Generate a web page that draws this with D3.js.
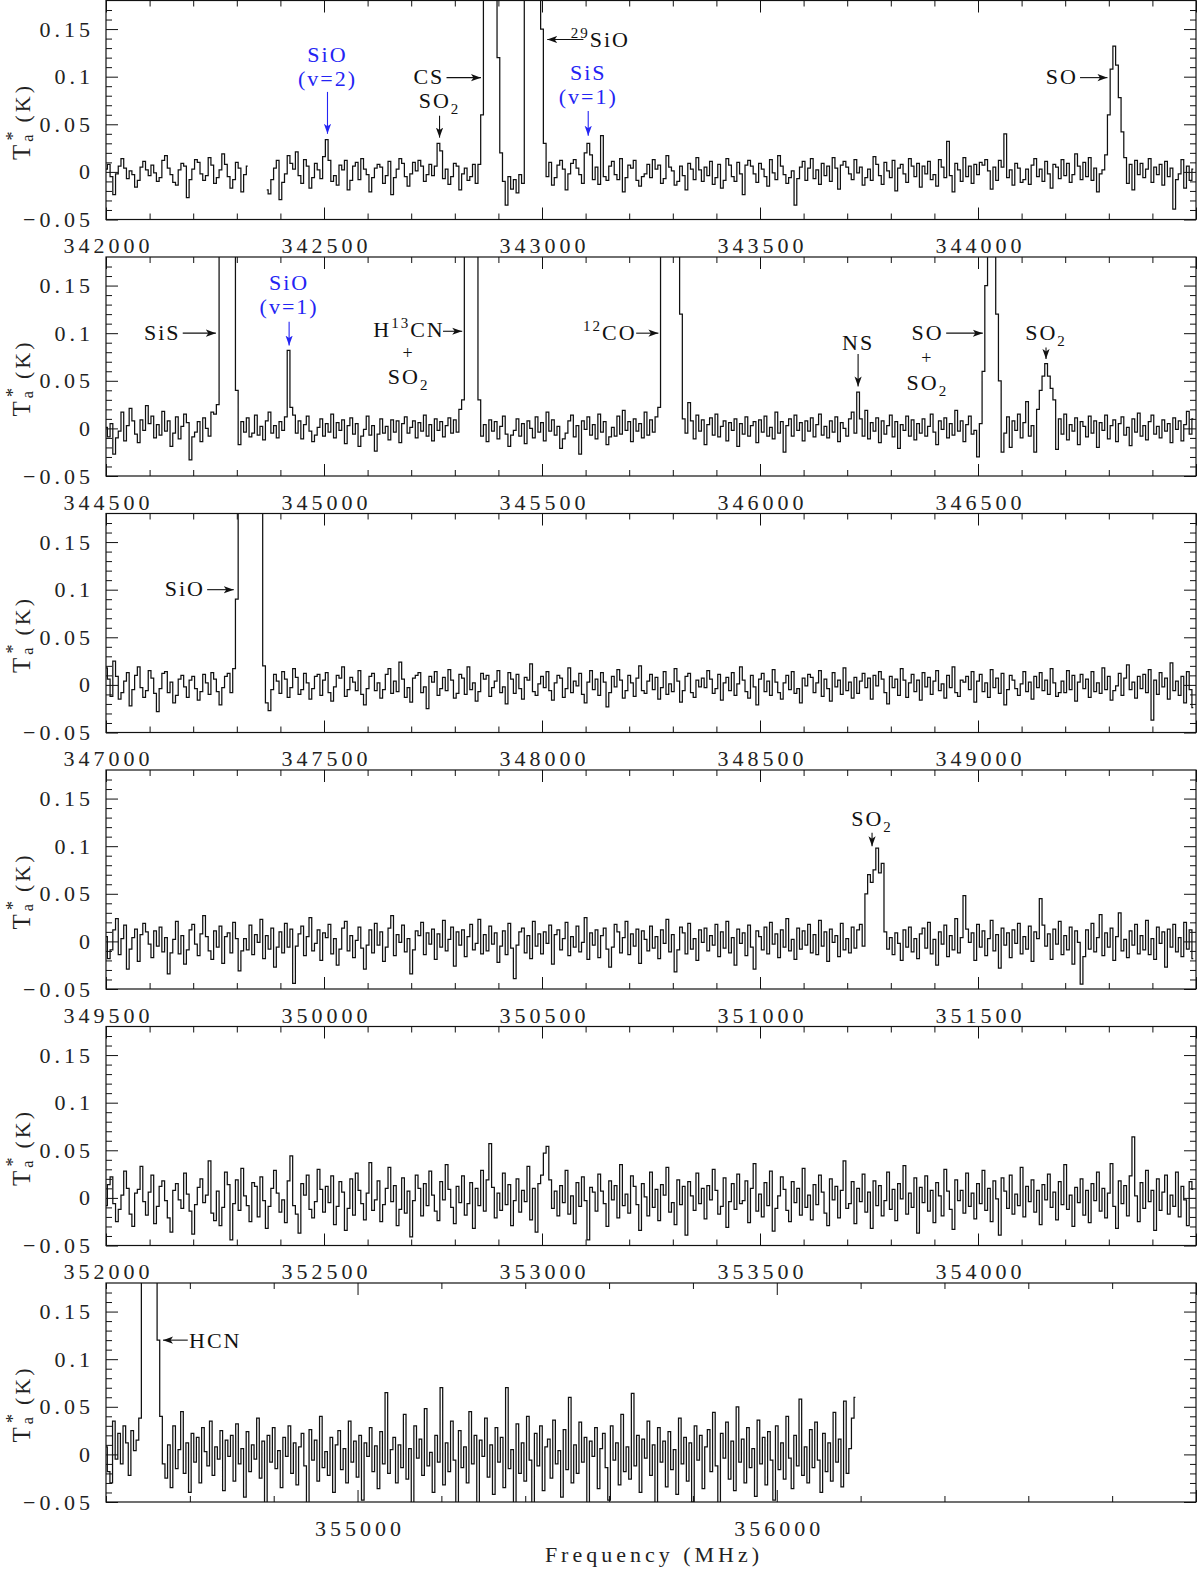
<!DOCTYPE html>
<html><head><meta charset="utf-8">
<script src="https://cdn.jsdelivr.net/npm/d3@7"></script>
<style>
body{margin:0;background:#fff}
svg{display:block}
text{font-family:"Liberation Serif","DejaVu Serif",serif;fill:#222}
</style>
</head><body>
<svg id="chart" width="1200" height="1572"></svg>
<script>
// ---- DATA (antenna temperature in mK, one value per 6.25 MHz channel) ----
const chanWidth = 6.25;
const panelStarts = [342000, 344500, 347000, 349500, 352000, 354400];
const panelEnds   = [344500, 347000, 349500, 352000, 354500, 357000];

const spec1 = [
3,8,-5,-24,-2,6,14,4,-7,1,-3,-16,-9,5,11,2,-4,7,-1,-10,
-6,12,17,4,-3,-11,-14,2,9,6,-27,-8,3,13,10,-2,-9,-4,15,7,
-12,-6,2,19,8,-5,-17,-8,10,4,-21,-3,6,
null,null,null,null,null,null,
-19,-23,-8,4,12,-29,-11,-2,17,9,3,21,-4,-12,13,6,-17,-6,9,2,-7,
16,34,12,-10,-4,-14,7,2,12,-19,-9,6,10,-8,14,3,-3,-21,-6,4,
8,5,-12,-4,11,-24,-6,3,14,9,-5,-15,-2,10,1,12,6,-10,-3,8,
-4,6,30,22,-7,3,-13,-5,9,6,-19,-2,4,-9,-5,8,
-12,8,60,300,700,850,750,400,120,20,
-10,-35,-5,-18,-8,-22,-3,-12,
400,900,1000,950,800,500,150,30,-5,
10,-14,-6,7,12,3,-19,-2,9,13,4,-3,-12,20,30,18,-8,
5,-13,38,-5,-9,6,11,-3,-8,14,-21,-6,7,4,12,-9,-15,-5,-2,8,
-6,13,3,7,-12,-7,17,5,1,-14,-10,6,-4,-19,9,3,-8,15,2,-10,
5,-4,11,-13,-6,8,-17,-9,14,7,-5,-10,10,-2,-24,7,12,6,-2,-11,
9,3,-5,-15,13,-1,-8,17,6,-3,-12,-6,1,-35,-7,5,11,-9,4,14,
-7,2,-13,9,-4,6,-10,15,4,-18,7,11,5,-2,-8,13,-1,5,-14,-6,
3,-9,16,8,-4,-13,10,1,-6,12,-20,4,8,-2,-11,14,6,-5,9,-16,
6,-2,11,-8,-3,-15,13,5,-6,32,-4,-21,9,2,-10,15,-5,6,-12,8,
-3,10,7,13,1,-18,5,-9,12,5,40,-6,2,-14,9,4,-11,-8,3,-13,
7,14,-5,3,-10,11,-2,-17,8,5,-7,13,-4,9,-11,-3,19,6,-8,10,
-5,15,-9,4,-21,-2,2,18,60,108,132,112,78,42,15,-12,8,-19,12,-3,
9,-6,3,14,-11,5,-3,8,-14,11,-5,4,-39,-8,-2,13,-17,6,-9,3
];

const spec2 = [
1,-9,5,-27,-10,-3,17,-13,3,21,8,-6,-15,9,-2,24,5,13,-10,4,
-7,18,-3,8,-19,-5,12,-11,2,15,6,-33,-9,-4,7,-14,11,0,-8,17,
15,25,350,850,1000,950,700,300,40,
-17,7,-4,11,-9,-5,14,-7,2,-12,8,17,-5,3,-10,7,-2,12,
82,22,
14,-5,8,-11,4,13,-3,-14,-7,1,10,-8,5,-4,15,-10,6,-2,9,-16,3,
11,-6,5,-19,-8,-1,13,-7,3,-24,-6,10,-5,2,-12,9,-4,8,-15,5,
12,-5,1,8,-10,6,-3,14,-8,4,-13,10,-2,7,-9,3,11,-5,9,-4,20,
30,500,950,1000,800,350,30,
-8,4,-14,9,-3,7,-11,2,13,-6,-19,-7,-2,10,-8,5,-16,8,0,-10,12,-4,
6,-13,17,-3,9,-7,2,-21,-11,-5,8,14,-9,3,-27,8,-1,12,-7,4,
-11,15,-4,7,-17,-9,1,-8,13,-6,19,-2,7,-14,10,-3,5,-10,17,-7,9,-4,12,22,
300,1200,2000,2200,1800,1000,400,120,10,
-5,27,8,-11,14,-3,9,-17,4,11,-7,15,-9,2,8,-13,6,-2,10,-19,5,-6,12,-8,3,7,-15,
9,-4,13,-8,1,-11,17,-5,7,-25,3,10,-8,14,-2,6,-13,8,-3,11,
-9,4,15,-7,2,-10,8,-4,12,-14,6,0,-8,10,17,-5,
38,10,-8,
19,-11,6,-3,11,-15,8,-6,3,14,-9,7,-21,4,-2,13,-8,9,-12,5,-5,
10,-8,2,15,-4,-17,8,-1,11,-10,5,-7,19,-3,8,-14,4,13,-6,-2,
-30,5,60,150,190,200,185,120,50,-25,
-5,12,-20,8,-2,15,-10,6,28,-8,3,
-25,20,40,55,68,55,42,30,-22,
10,-6,15,-12,4,-3,11,-17,7,2,-9,13,-5,8,-20,6,-2,14,-11,3,
9,-14,5,12,-7,1,-18,10,-4,16,-8,3,-12,7,14,-6,2,-10,9,-3,5,-15,11,-1,8,-13,4,18,-6,10
];

const spec3 = [
18,6,-12,25,9,-15,-8,4,13,-22,-5,10,19,-3,-13,-6,15,7,-9,-28,
-4,12,14,-8,3,-19,-11,6,10,-2,-13,5,9,-4,-16,-7,11,2,-10,13,
6,-7,-21,-3,9,12,-8,17,
90,600,1300,1700,1800,1700,1400,900,500,200,20,
-19,-27,-5,11,4,-9,14,6,-13,-3,17,8,-10,-5,12,2,-15,-4,9,11,-11,
5,13,-8,-17,-2,10,7,19,-12,-5,8,3,-6,15,-10,-21,-4,9,12,-6,
2,-14,-5,11,17,-9,4,-7,24,6,-13,-3,-18,7,10,13,-8,-2,-25,9,
3,14,-11,-4,8,-6,16,5,-14,-9,11,7,-10,19,-5,2,-17,-7,12,6,
10,-12,-3,4,15,-8,-2,-20,13,6,-9,11,-4,-15,8,5,22,-7,-11,1,
9,-3,14,-6,-16,2,10,7,-13,-4,18,-8,4,-1,12,-10,-19,3,15,-5,
6,-11,13,3,-23,-8,9,-2,16,5,-14,-6,10,2,-12,7,20,-6,-9,4,
11,-5,8,-15,-3,14,-10,1,-7,17,4,-18,-6,9,12,-8,-13,5,-2,7,
-3,15,6,-9,-4,11,-16,2,8,-6,13,-11,1,19,5,-7,-14,10,-2,-21,
6,12,-7,4,-11,16,3,-8,-15,2,10,-5,14,-9,-4,-19,7,-1,11,8,
-8,2,15,-12,6,-4,-17,13,-2,5,-10,18,-6,3,-14,8,-9,4,12,-3,
7,-15,10,-1,14,6,-8,-20,9,-3,6,-11,17,5,-13,2,11,-7,5,-16,
13,-2,8,-10,4,15,-6,1,-14,10,-3,19,-8,-12,5,3,9,-5,14,-18,
4,11,-7,2,-13,16,-3,7,-9,12,-21,-5,10,5,-4,-11,1,14,-7,3,
-15,9,-3,13,-6,5,-10,17,2,-12,-8,4,-8,15,-5,10,-17,3,11,-4,
6,-13,14,-7,2,-9,18,-5,9,-16,-6,-1,12,-11,7,21,-5,3,-14,9,
-4,11,-8,16,-37,5,-10,13,-2,7,-15,23,-6,4,-11,9,-19,14,-5,-24
];

const spec4 = [
5,-18,-9,12,24,-14,3,17,-29,-8,4,13,-21,7,19,10,-3,-17,11,-5,
15,-11,4,-34,-12,2,21,-13,6,-24,-9,12,18,-3,-15,8,27,5,-10,-19,
11,-6,16,-23,5,9,-12,20,3,-31,-10,3,-9,17,-14,7,-1,23,-18,6,
-8,14,-27,-6,10,-12,19,-6,13,-44,-5,8,16,-15,5,25,-10,-2,12,-20,
9,4,18,-13,3,-25,-8,14,21,-10,6,-17,1,15,-7,-29,-4,12,-12,19,
-4,10,-21,-6,14,27,-15,7,-1,17,-11,3,-34,-9,11,6,20,-14,9,-3,
13,-19,8,-6,22,-10,2,15,-26,10,-4,12,-16,5,18,-9,-2,23,-13,7,
-10,16,-3,9,-22,-5,11,-14,19,-7,-39,-4,10,14,-12,6,-18,21,-5,8,
-13,10,-2,17,-24,7,12,-9,3,20,-15,5,-6,16,-11,-1,25,-19,9,-4,
12,-17,6,14,-8,-27,-6,18,10,-12,4,21,-14,8,-5,13,-23,11,2,-10,
16,-7,5,-18,12,-2,23,-11,7,-32,-9,15,9,-13,19,-8,3,-20,12,-1,
14,-10,6,-4,18,-16,10,-7,21,-12,4,-25,13,-2,9,-15,17,-6,-29,11,
5,-9,15,-13,20,-3,8,-17,12,-6,24,-10,2,-19,14,-8,11,-4,18,-12,
7,-14,22,-5,10,-21,13,-1,6,-16,19,-9,3,-12,15,-7,12,18,
-5,50,70,62,75,98,72,82,10,
-8,4,-14,9,-2,-20,12,-6,15,-11,3,-18,8,
14,-7,20,-13,2,-25,10,-3,17,-16,6,-9,24,-12,4,48,13,-1,9,-20,
18,-6,11,-15,3,22,-10,7,-28,14,-4,9,-17,12,-2,19,-13,5,-8,16,
-21,10,3,45,17,-5,8,-19,13,-3,21,-14,6,-9,15,-24,11,-1,-45,-16,
12,-8,19,-11,4,28,-15,9,-6,14,-20,5,30,-10,2,-17,11,-4,18,-13,
6,-9,22,-14,3,-19,15,-2,10,-27,13,-6,18,-11,4,-16,20,-8,12,-18
];

const spec5 = [
-8,14,22,-6,-25,-12,3,28,10,-17,-30,5,9,33,-4,-18,6,24,-27,-9,
12,18,-3,-21,-36,8,15,-2,-11,26,4,-14,-38,-7,11,20,-5,3,39,-16,
-24,7,-29,-10,27,14,-44,-6,19,-13,31,2,-8,-25,16,12,-20,22,-3,-32,
-9,10,29,5,-15,-2,-26,18,44,-8,-17,-37,15,3,24,-12,-21,-4,30,9,
-15,12,-5,23,-28,-9,17,6,-34,-11,20,-18,26,8,-6,-23,5,37,-13,-2,
18,-25,-7,10,32,-4,13,-29,-12,21,-16,7,-41,-3,24,10,-19,15,-8,28,
3,-14,-24,17,-2,35,9,-10,-27,12,-5,23,-18,-6,16,-32,10,-8,29,-14,
19,57,11,-21,5,-13,26,-7,14,-29,-3,20,-15,8,-4,33,-23,10,-36,15,
24,47,54,19,-11,7,-19,13,-5,29,-17,2,-27,16,-9,22,-3,-44,11,6,
-14,25,7,-6,-30,18,-2,13,-21,35,-8,4,-16,23,12,-7,-34,15,1,-19,
27,-10,9,-24,14,3,32,-15,-5,-28,19,-7,12,-39,17,2,-13,26,-6,10,
-22,13,-2,30,8,-17,-9,21,-31,-4,15,-12,25,-6,-3,18,-26,10,36,-14,
4,-20,16,-8,28,-35,-11,2,22,9,-13,-25,17,-5,10,-18,31,-10,3,-23,
14,-7,24,6,-16,-29,20,-2,12,-21,8,39,-11,-6,17,-27,10,-4,25,-15,
6,-32,18,-8,13,-19,-3,27,-12,9,-24,15,-1,34,-17,5,-10,21,-37,11,
-5,23,-14,8,-26,16,2,-19,30,7,-12,-33,19,-3,8,-16,26,-9,5,-22,
15,-6,29,-13,10,-25,18,-1,-39,21,7,-11,24,-17,4,-8,32,-20,12,-4,
19,-15,8,-28,14,-2,25,-10,6,-23,17,-7,35,-12,3,-30,11,-5,20,-18,
8,-26,15,-3,27,-14,10,-21,5,36,-9,-32,18,-6,13,-19,23,64,2,-25,
16,-11,29,-4,8,-34,20,-13,6,24,-17,3,-9,27,-20,12,-2,-29,17,9
];

const spec6 = [
8,-18,-30,35,-5,22,-10,30,12,-22,25,4,15,38,
200,900,1500,1800,1500,900,120,40,-10,
-25,10,-35,30,-15,5,45,-20,12,-40,22,-8,18,-30,28,3,-12,35,-22,8,-5,25,-38,15,-2,20,-28,
32,-10,6,-45,24,-18,10,-5,38,-25,14,-60,20,-8,28,-15,4,-35,18,-2,
30,-20,12,-32,8,22,-12,-55,26,-6,15,-28,40,-14,3,-22,18,-40,10,25,
-16,6,-30,35,-8,14,-24,20,-48,12,-2,28,-18,9,-36,24,-10,65,-20,5,
18,-30,10,-14,42,-26,6,-60,30,-4,16,-22,48,-12,2,-40,20,-8,70,-32,
12,-18,35,-6,-52,25,-14,8,-30,45,-10,20,-65,15,-2,38,-24,10,-42,28,
-8,18,-35,70,-15,5,-55,32,-20,12,-28,40,-6,-62,22,-12,30,-38,8,16,
-25,36,-10,4,-45,26,-16,60,-30,10,-20,34,-8,18,-58,14,-2,28,-36,6,
22,-14,-48,30,-6,12,-32,42,-18,8,-26,64,-12,20,-40,16,-4,35,-22,10,
-55,28,-8,14,-34,24,-16,5,-42,38,-10,18,-28,12,-50,30,-6,20,-36,8,
26,-18,44,-12,-60,22,-4,34,-26,14,-38,50,-8,16,-30,28,-14,6,-44,36,
-10,18,-32,24,-6,-48,30,-16,12,-26,40,-4,-36,20,-12,58,-22,8,-30,26,
-14,34,-6,-40,22,-18,12,-28,44,-8,16,-34,56,-20,6,38,60
];

const spectra = [spec1, spec2, spec3, spec4, spec5, spec6];

const yTickValues = [-0.05, 0, 0.05, 0.1, 0.15];
const yTickLabels = ["\u22120.05", "0", "0.05", "0.1", "0.15"];
const xMajorSteps = [500, 500, 500, 500, 500, 1000];
const xMinorSteps = [100, 100, 100, 100, 100, 200];

// Line identifications: arrow from tail [MHz, K] to tip [MHz, K]; labels at [MHz, K] (baseline)
const annotations = [
  {panel:0, color:"blue", arrow:[[342508,0.084],[342508,0.040]],
   labels:[{parts:[["SiO"]], at:[342508,0.115], anchor:"middle"},{parts:[["(v=2)"]], at:[342508,0.090], anchor:"middle"}]},
  {panel:0, color:"black", arrow:[[342781,0.099],[342860,0.099]],
   labels:[{parts:[["CS"]], at:[342776,0.092], anchor:"end"}]},
  {panel:0, color:"black", arrow:[[342765,0.059],[342765,0.036]],
   labels:[{parts:[["SO"],["2","sub"]], at:[342765,0.067], anchor:"middle"}]},
  {panel:0, color:"black", arrow:[[343095,0.139],[343012,0.139]],
   labels:[{parts:[["29","sup"],["SiO"]], at:[343066,0.131], anchor:"start"}]},
  {panel:0, color:"blue", arrow:[[343106,0.064],[343106,0.038]],
   labels:[{parts:[["SiS"]], at:[343106,0.096], anchor:"middle"},{parts:[["(v=1)"]], at:[343106,0.071], anchor:"middle"}]},
  {panel:0, color:"black", arrow:[[344234,0.099],[344297,0.099]],
   labels:[{parts:[["SO"]], at:[344229,0.092], anchor:"end"}]},

  {panel:1, color:"black", arrow:[[344676,0.100],[344752,0.100]],
   labels:[{parts:[["SiS"]], at:[344671,0.093], anchor:"end"}]},
  {panel:1, color:"blue", arrow:[[344920,0.112],[344920,0.087]],
   labels:[{parts:[["SiO"]], at:[344920,0.145], anchor:"middle"},{parts:[["(v=1)"]], at:[344920,0.120], anchor:"middle"}]},
  {panel:1, color:"black", arrow:[[345273,0.102],[345317,0.102]],
   labels:[{parts:[["H"],["13","sup"],["CN"]], at:[345113,0.096], anchor:"start"},
           {parts:[["+"]], at:[345194,0.0725], anchor:"middle", size:18},
           {parts:[["SO"],["2","sub"]], at:[345194,0.047], anchor:"middle"}]},
  {panel:1, color:"black", arrow:[[345716,0.100],[345767,0.100]],
   labels:[{parts:[["12","sup"],["CO"]], at:[345594,0.093], anchor:"start"}]},
  {panel:1, color:"black", arrow:[[346225,0.078],[346225,0.044]],
   labels:[{parts:[["NS"]], at:[346225,0.082], anchor:"middle"}]},
  {panel:1, color:"black", arrow:[[346427,0.100],[346511,0.100]],
   labels:[{parts:[["SO"]], at:[346421,0.093], anchor:"end"},
           {parts:[["+"]], at:[346384,0.068], anchor:"middle", size:18},
           {parts:[["SO"],["2","sub"]], at:[346384,0.040], anchor:"middle"}]},
  {panel:1, color:"black", arrow:[[346656,0.085],[346656,0.073]],
   labels:[{parts:[["SO"],["2","sub"]], at:[346656,0.093], anchor:"middle"}]},

  {panel:2, color:"black", arrow:[[347232,0.100],[347293,0.100]],
   labels:[{parts:[["SiO"]], at:[347227,0.093], anchor:"end"}]},

  {panel:3, color:"black", arrow:[[351257,0.114],[351257,0.100]],
   labels:[{parts:[["SO"],["2","sub"]], at:[351257,0.121], anchor:"middle"}]},

  {panel:5, color:"black", arrow:[[354595,0.120],[354536,0.120]],
   labels:[{parts:[["HCN"]], at:[354598,0.112], anchor:"start"}]}
];

// ---- LAYOUT ----
const L = 106, R = 1196, PH = 219, PSTEP = 256.5, TOP0 = 0.5;
const BLUE = "#2424f4", INK = "#111";
const svg = d3.select("#chart");
const defs = svg.append("defs");
[["black", INK], ["blue", BLUE]].forEach(([n, c]) => {
  defs.append("marker").attr("id", "ah-" + n)
    .attr("viewBox", "0 -5 10 10").attr("refX", 10).attr("refY", 0)
    .attr("markerWidth", 10).attr("markerHeight", 10)
    .attr("markerUnits", "userSpaceOnUse").attr("orient", "auto")
    .append("path").attr("d", "M0,-3.6L10,0L0,3.6L2.5,0Z").attr("fill", c);
});

const tickFont = 22, tickSpacing = 4;

spectra.forEach((spec, k) => {
  const top = TOP0 + k * PSTEP, bottom = top + PH;
  const x = d3.scaleLinear().domain([panelStarts[k], panelEnds[k]]).range([L, R]);
  const y = d3.scaleLinear().domain([-0.05, 0.18]).range([bottom, top]);
  const g = svg.append("g");

  defs.append("clipPath").attr("id", "clip" + k)
    .append("rect").attr("x", L).attr("y", top).attr("width", R - L).attr("height", PH);

  const pts = spec.map((v, i) => ({f: panelStarts[k] + i * chanWidth, v: v == null ? null : v / 1000}));
  const line = d3.line().defined(d => d.v != null).x(d => x(d.f)).y(d => y(d.v)).curve(d3.curveStep);
  g.append("path").attr("clip-path", `url(#clip${k})`).attr("d", line(pts))
    .attr("fill", "none").attr("stroke", INK).attr("stroke-width", 1.25);

  // ticks
  const step = xMajorSteps[k], mstep = xMinorSteps[k];
  const majors = d3.range(Math.ceil(panelStarts[k] / step) * step, panelEnds[k] + 1, step);
  const minors = d3.range(Math.ceil(panelStarts[k] / mstep) * mstep, panelEnds[k] + 1, mstep).filter(v => v % step !== 0);
  const labelled = majors.filter(v => v < panelEnds[k]);
  const yMinors = d3.range(-4, 18).map(v => v / 100).filter(v => Math.round(v * 100) % 5 !== 0);

  const styleAxis = sel => {
    sel.select(".domain").remove();
    sel.attr("font-family", null).attr("font-size", tickFont);
    sel.selectAll("line").attr("stroke", INK).attr("stroke-width", 1);
    sel.selectAll("text").attr("fill", "#222").attr("letter-spacing", tickSpacing);
  };

  g.append("g").attr("transform", `translate(0,${bottom})`)
    .call(d3.axisBottom(x).tickValues(majors).tickSize(-12).tickSizeOuter(0).tickPadding(18)
      .tickFormat(d => labelled.includes(d) ? String(d) : ""))
    .call(styleAxis).selectAll("text").attr("dx", tickSpacing / 2);
  g.append("g").attr("transform", `translate(0,${bottom})`)
    .call(d3.axisBottom(x).tickValues(minors).tickSize(-6).tickSizeOuter(0).tickFormat(""))
    .call(styleAxis);
  g.append("g").attr("transform", `translate(0,${top})`)
    .call(d3.axisTop(x).tickValues(majors).tickSize(-12).tickSizeOuter(0).tickFormat(""))
    .call(styleAxis);
  g.append("g").attr("transform", `translate(0,${top})`)
    .call(d3.axisTop(x).tickValues(minors).tickSize(-6).tickSizeOuter(0).tickFormat(""))
    .call(styleAxis);

  g.append("g").attr("transform", `translate(${L},0)`)
    .call(d3.axisLeft(y).tickValues(yTickValues).tickSize(-12).tickSizeOuter(0).tickPadding(16)
      .tickFormat((d, i) => yTickLabels[i]))
    .call(styleAxis).selectAll("text").attr("dx", tickSpacing);
  g.append("g").attr("transform", `translate(${L},0)`)
    .call(d3.axisLeft(y).tickValues(yMinors).tickSize(-6).tickSizeOuter(0).tickFormat(""))
    .call(styleAxis);
  g.append("g").attr("transform", `translate(${R},0)`)
    .call(d3.axisRight(y).tickValues(yTickValues).tickSize(-12).tickSizeOuter(0).tickFormat(""))
    .call(styleAxis);
  g.append("g").attr("transform", `translate(${R},0)`)
    .call(d3.axisRight(y).tickValues(yMinors).tickSize(-6).tickSizeOuter(0).tickFormat(""))
    .call(styleAxis);

  // frame
  g.append("rect").attr("x", L).attr("y", top).attr("width", R - L).attr("height", PH)
    .attr("fill", "none").attr("stroke", INK).attr("stroke-width", 1.2);

  // y title
  const yt = g.append("text").attr("transform", `translate(30,${top + 121}) rotate(-90)`)
    .attr("text-anchor", "middle").attr("letter-spacing", 3);
  yt.append("tspan").attr("font-size", 25).text("T");
  yt.append("tspan").attr("font-size", 16).attr("dy", 3).text("a");
  yt.append("tspan").attr("font-size", 18).attr("dy", -14).attr("dx", -9).text("*");
  yt.append("tspan").attr("font-size", 22).attr("dy", 11).attr("dx", 6).text("(K)");

  // annotations
  annotations.filter(a => a.panel === k).forEach(a => {
    const col = a.color === "blue" ? BLUE : INK;
    const [[f1, v1], [f2, v2]] = a.arrow;
    g.append("line").attr("x1", x(f1)).attr("y1", y(v1)).attr("x2", x(f2)).attr("y2", y(v2))
      .attr("stroke", col).attr("stroke-width", 1.1).attr("marker-end", `url(#ah-${a.color})`);
    a.labels.forEach(lb => {
      const t = g.append("text").attr("x", x(lb.at[0])).attr("y", y(lb.at[1]))
        .attr("text-anchor", lb.anchor).attr("font-size", lb.size || 22).attr("letter-spacing", 2)
        .style("fill", col);
      let shift = 0;
      lb.parts.forEach(([s, type]) => {
        const ts = t.append("tspan").text(s);
        const target = type === "sup" ? -9 : type === "sub" ? 6 : 0;
        if (target !== shift) ts.attr("dy", target - shift);
        shift = target;
        if (type) ts.attr("font-size", 15);
      });
    });
  });
});

// x title
svg.append("text").attr("x", 654).attr("y", 1562).attr("text-anchor", "middle")
  .attr("font-size", 22).attr("letter-spacing", 4).text("Frequency (MHz)");
</script>
</body></html>
